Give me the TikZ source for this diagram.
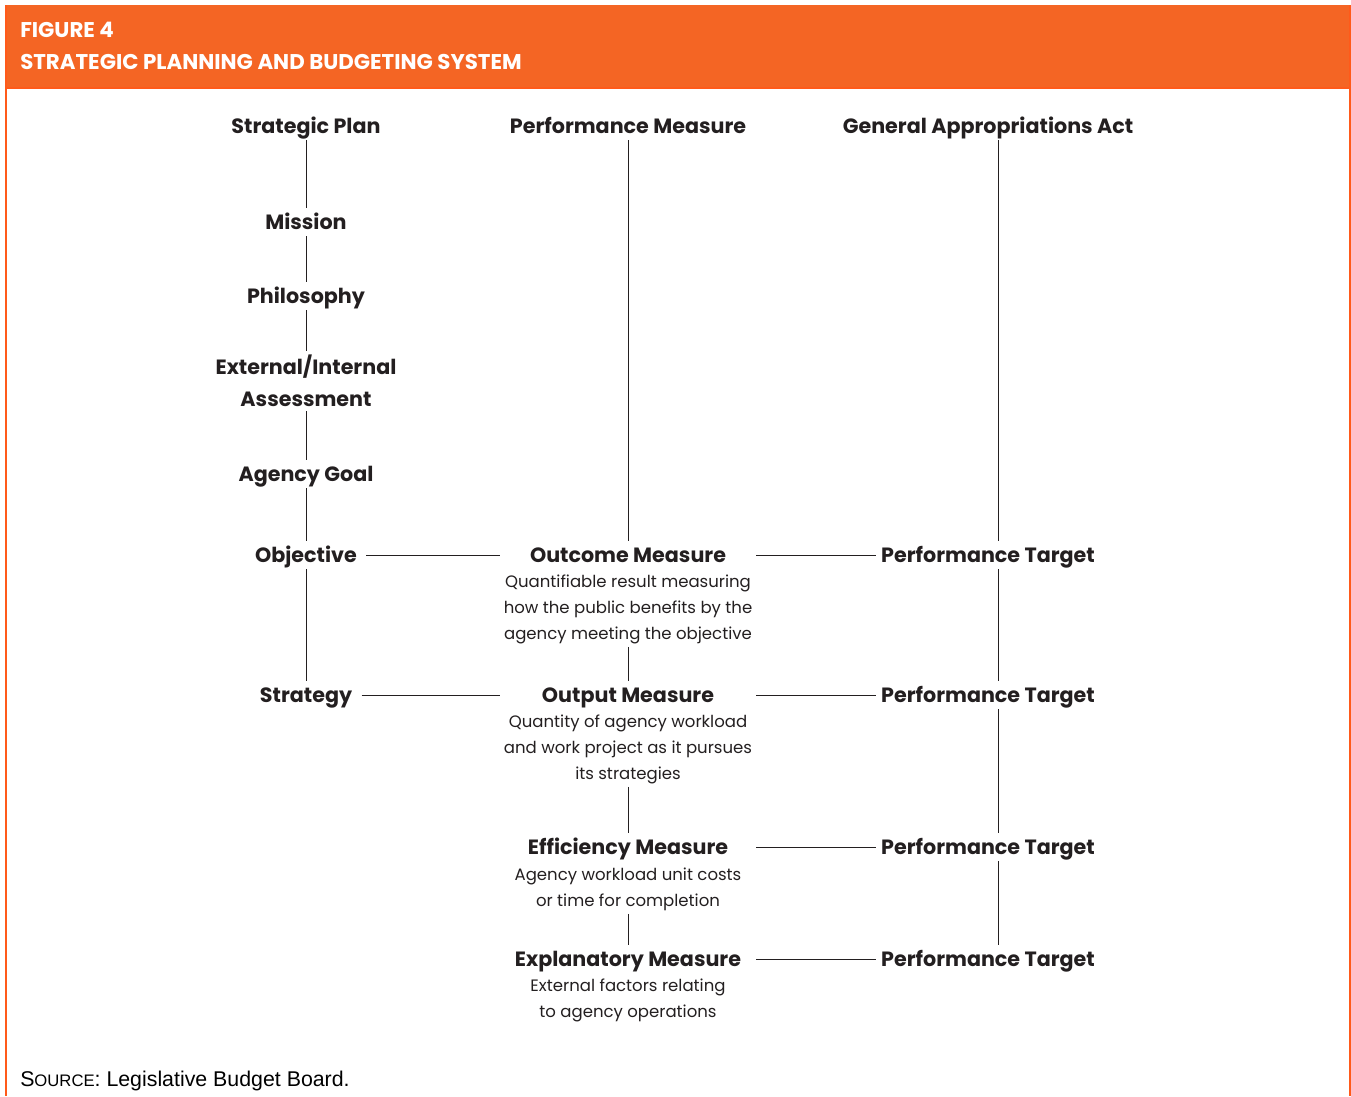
\documentclass[tikz,border=0pt]{standalone}
\usepackage{fontspec}
\setmainfont{Poppins}
\newfontfamily\srcfont{Liberation Sans}
\definecolor{hdr}{HTML}{F46524}
\definecolor{frame}{HTML}{FF5A1A}
\definecolor{ink}{HTML}{231F20}
\tikzset{
  ttl/.style={font=\fontsize{15.5pt}{18pt}\selectfont\bfseries, text=ink, inner xsep=7pt, inner ysep=0pt, text height=16pt, text depth=5pt},
  midttl/.style={ttl, minimum width=192pt},
  ptnode/.style={ttl, inner xsep=3.75pt},
  desc/.style={font=\fontsize{12.4pt}{19.5pt}\selectfont, text=ink, align=center, inner sep=2pt},
  conn/.style={draw=ink, line width=0.6pt}
}
\begin{document}
\begin{tikzpicture}[x=0.75pt,y=-0.75pt]
\useasboundingbox (0,0) rectangle (1351,1096);
% header
\fill[hdr] (6,5) rectangle (1350,88);
\draw[frame, line width=1.5pt] (6,88) -- (1350,88);
\draw[frame, line width=1.5pt] (6,5) -- (6,1096);
\draw[frame, line width=1.5pt] (1350,5) -- (1350,1096);
\node[anchor=base west, text=white, font=\fontsize{16pt}{19pt}\selectfont\bfseries, inner sep=0pt] (fig) at (20,37) {FIGURE 4};
\node[anchor=base west, text=white, font=\fontsize{16pt}{19pt}\selectfont\bfseries, inner sep=0pt] (title) at (20,69) {STRATEGIC PLANNING AND BUDGETING SYSTEM};
% column titles
\node[ttl] (sp) at (306,126) {Strategic Plan};
\node[ttl] (pm) at (628,126) {Performance Measure};
\node[ttl] (gaa) at (988,126) {General Appropriations Act};
% left column
\node[ttl] (mis) at (306,222) {Mission};
\node[ttl] (phi) at (306,296) {Philosophy};
\node[font=\fontsize{15.5pt}{24pt}\selectfont\bfseries, text=ink, align=center, inner sep=3pt] (ext) at (306,381) {External/Internal\\Assessment};
\node[ttl] (goal) at (306,474) {Agency Goal};
\node[ttl] (obj) at (306,555) {Objective};
\node[ttl] (str) at (306,695) {Strategy};
% middle column
\node[midttl] (om) at (628,555) {Outcome Measure};
\node[desc, anchor=north] (omd) at (628,572) {Quantifiable result measuring\\how the public benefits by the\\agency meeting the objective};
\node[midttl] (out) at (628,695) {Output Measure};
\node[desc, anchor=north] (outd) at (628,712) {Quantity of agency workload\\and work project as it pursues\\its strategies};
\node[midttl] (eff) at (628,847) {Efficiency Measure};
\node[desc, anchor=north] (effd) at (628,865) {Agency workload unit costs\\or time for completion};
\node[midttl] (exm) at (628,959) {Explanatory Measure};
\node[desc, anchor=north] (exmd) at (628,976) {External factors relating\\to agency operations};
% right column
\node[ptnode] (pt1) at (988,555) {Performance Target};
\node[ptnode] (pt2) at (988,695) {Performance Target};
\node[ptnode] (pt3) at (988,847) {Performance Target};
\node[ptnode] (pt4) at (988,959) {Performance Target};
% vertical connectors
\draw[conn] (sp) -- (mis);
\draw[conn] (mis) -- (phi);
\draw[conn] (phi) -- (ext);
\draw[conn] (ext) -- (goal);
\draw[conn] (goal) -- (obj);
\draw[conn] (obj) -- (str);
\draw[conn] (pm) -- (om);
\draw[conn] (omd) -- (out);
\draw[conn] (outd) -- (eff);
\draw[conn] (effd) -- (exm);
\draw[conn] ([xshift=7.5pt]gaa.south) -- ([xshift=7.5pt]pt1.north);
\draw[conn] ([xshift=7.5pt]pt1.south) -- ([xshift=7.5pt]pt2.north);
\draw[conn] ([xshift=7.5pt]pt2.south) -- ([xshift=7.5pt]pt3.north);
\draw[conn] ([xshift=7.5pt]pt3.south) -- ([xshift=7.5pt]pt4.north);
% horizontal connectors
\draw[conn] (obj) -- (om);
\draw[conn] (str) -- (out);
\draw[conn] (om) -- (pt1);
\draw[conn] (out) -- (pt2);
\draw[conn] (eff) -- (pt3);
\draw[conn] (exm) -- (pt4);
% source
\node[anchor=base west, inner sep=0pt, font=\srcfont\fontsize{16pt}{19pt}\selectfont, text=black] (src) at (20,1086) {S{\fontsize{12.5pt}{15pt}\selectfont OURCE}: Legislative Budget Board.};
\end{tikzpicture}
\end{document}
